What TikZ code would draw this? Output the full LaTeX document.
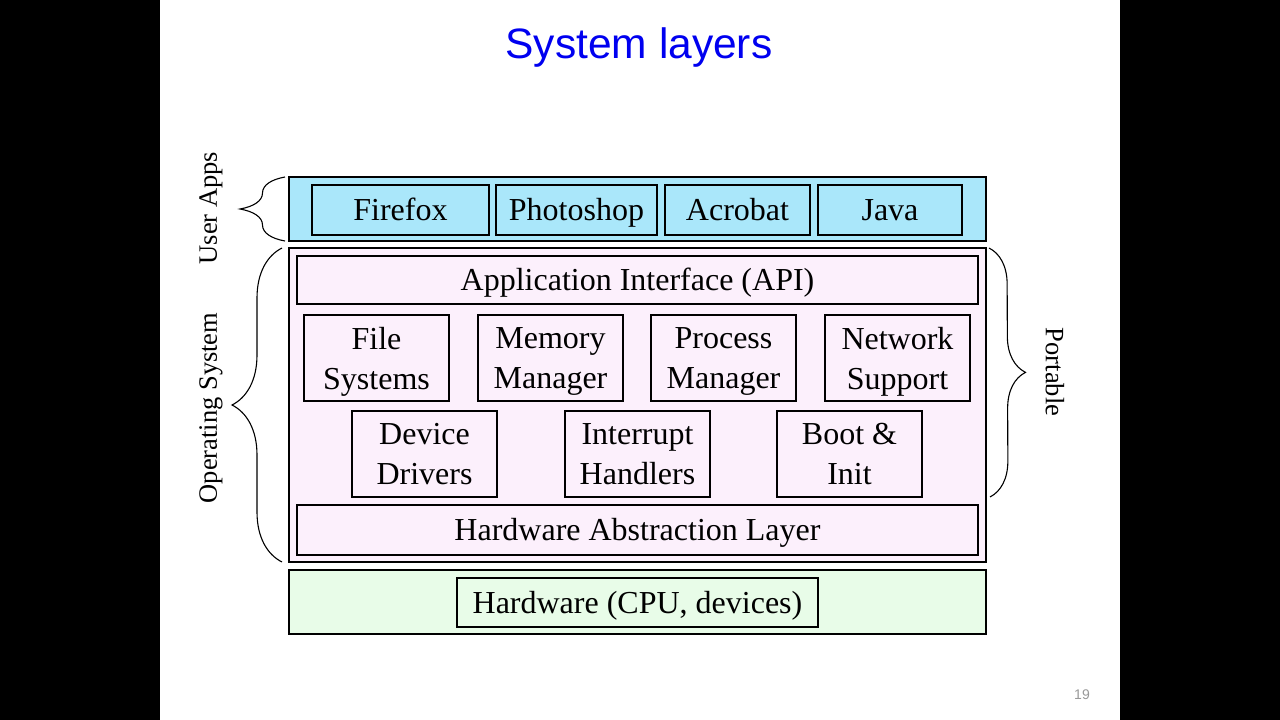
\documentclass[tikz,border=0pt]{standalone}
\usepackage{fontspec}
\setmainfont{Liberation Serif}
\newfontfamily\arialfont{Liberation Sans}
\usetikzlibrary{decorations.pathreplacing}
\definecolor{appcyan}{RGB}{170,231,250}
\definecolor{ospink}{RGB}{252,240,252}
\definecolor{hwgreen}{RGB}{232,252,232}
\definecolor{titleblue}{RGB}{0,0,240}
\begin{document}
\begin{tikzpicture}[x=1pt,y=-1pt,
  band/.style={draw, line width=1.6pt, inner sep=0pt, outer sep=0pt},
  box/.style={draw, line width=1.5pt, inner sep=0pt, outer sep=0pt, align=center,
    font=\fontsize{32}{40}\selectfont, text depth=0pt},
  onebox/.style={box, text height=21pt},
  twobox/.style={box, minimum width=145pt, minimum height=86pt, fill=ospink},
  bracedec/.style={decorate, line width=1.1pt, decoration={brace, amplitude=#1}},
  sidelabel/.style={font=\fontsize{26.5}{30}\selectfont, inner sep=0pt}
]
\useasboundingbox (0,0) rectangle (1280,720);
\fill[black] (0,0) rectangle (160,720);
\fill[black] (1120,0) rectangle (1280,720);
\fill[white] (160,0) rectangle (1120,720);

\node[font=\arialfont\fontsize{42.5}{48}\selectfont, text=titleblue, anchor=base] (title) at (639,58) {System layers};

% bands
\node[band, fill=appcyan, minimum width=697pt, minimum height=64pt] (ua) at (637.5,209) {};
\node[band, fill=ospink, minimum width=697pt, minimum height=314pt] (os) at (637.5,405) {};
\node[band, fill=hwgreen, minimum width=697pt, minimum height=64pt] (hwband) at (637.5,602) {};

% user apps
\node[onebox, fill=appcyan, minimum width=177pt, minimum height=50pt] (firefox) at (400.5,210) {Firefox};
\node[onebox, fill=appcyan, minimum width=161pt, minimum height=50pt] (photoshop) at (576.5,210) {Photoshop};
\node[onebox, fill=appcyan, minimum width=145pt, minimum height=50pt] (acrobat) at (737.5,210) {Acrobat};
\node[onebox, fill=appcyan, minimum width=144pt, minimum height=50pt] (java) at (890,210) {Java};

% OS
\node[onebox, fill=ospink, minimum width=681pt, minimum height=48pt] (api) at (637.5,280) {Application Interface (API)};
\node[twobox] (fs) at (376.5,358) {File\\Systems};
\node[twobox] (mm) at (550.5,358) {Memory\\Manager};
\node[twobox] (pm) at (723.5,358) {Process\\Manager};
\node[twobox] (ns) at (897.5,358) {Network\\Support};
\node[twobox] (dd) at (424.5,454) {Device\\Drivers};
\node[twobox] (ih) at (637.5,454) {Interrupt\\Handlers};
\node[twobox] (bi) at (849.5,454) {Boot \&\\Init};
\node[onebox, fill=ospink, minimum width=681pt, minimum height=50pt] (hal) at (637.5,530) {Hardware Abstraction Layer};

% hardware
\node[onebox, fill=hwgreen, minimum width=361pt, minimum height=49pt] (hw) at (637.5,602.5) {Hardware (CPU, devices)};

% braces
\draw[bracedec=45pt] ([xshift=-4pt]ua.south west) -- ([xshift=-4pt]ua.north west);
\draw[bracedec=50pt] ([xshift=-7pt]os.south west) -- ([xshift=-7pt]os.north west);
\coordinate (pbot) at (990,497);
\draw[bracedec=36pt] ([xshift=3pt]os.north east) -- (pbot);

\node[sidelabel, rotate=90] (lua) at (211,208) {User Apps};
\node[sidelabel, rotate=90] (los) at (211,408) {Operating System};
\node[sidelabel, rotate=-90] (lport) at (1055,372) {Portable};

\node[font=\arialfont\fontsize{14}{16}\selectfont, text=black!40] (pg) at (1082,695) {19};
\end{tikzpicture}
\end{document}
